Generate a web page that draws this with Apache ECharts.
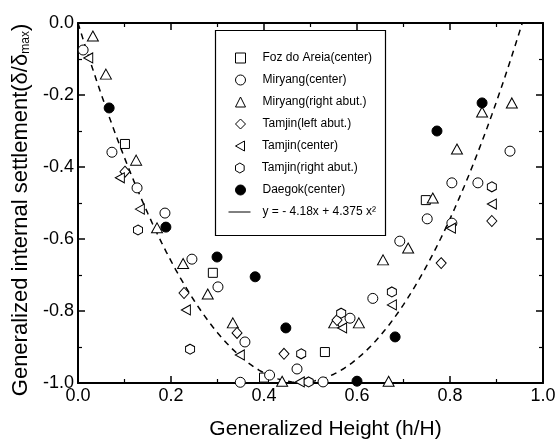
<!DOCTYPE html>
<html>
<head>
<meta charset="utf-8">
<script src="https://cdn.jsdelivr.net/npm/echarts@6/dist/echarts.min.js"></script>
<style>html,body{margin:0;padding:0;background:#fff}#c{width:559px;height:439px}</style>
</head>
<body>
<div id="c"></div>
<script>
// ---- data ----
const seriesNames = ['Foz do Areia(center)','Miryang(center)','Miryang(right abut.)','Tamjin(left abut.)','Tamjin(center)','Tamjin(right abut.)','Daegok(center)'];
const fitName = 'y = - 4.18x + 4.375 x\u00B2';
const fitA = -4.18, fitB = 4.375;
const xTicks = [0, 0.2, 0.4, 0.6, 0.8, 1.0];
const yTicks = [-1.0, -0.8, -0.6, -0.4, -0.2, 0.0];

const fozCenter = [[0.101,-0.336],[0.290,-0.694],[0.400,-0.985],[0.531,-0.914],[0.748,-0.492]];
const miryangCenter = [[0.011,-0.075],[0.073,-0.359],[0.127,-0.458],[0.187,-0.528],[0.245,-0.656],[0.301,-0.733],[0.359,-0.886],[0.349,-0.998],[0.412,-0.978],[0.471,-0.961],[0.527,-0.997],[0.585,-0.820],[0.634,-0.765],[0.692,-0.606],[0.751,-0.544],[0.804,-0.444],[0.860,-0.444],[0.929,-0.356],[0.804,-0.556]];
const miryangRight = [[0.032,-0.036],[0.060,-0.142],[0.125,-0.381],[0.170,-0.569],[0.226,-0.668],[0.279,-0.753],[0.333,-0.833],[0.439,-0.995],[0.551,-0.833],[0.604,-0.833],[0.656,-0.658],[0.668,-0.995],[0.710,-0.625],[0.763,-0.486],[0.815,-0.350],[0.869,-0.247],[0.933,-0.222]];
const tamjinLeft = [[0.101,-0.413],[0.228,-0.750],[0.342,-0.861],[0.443,-0.919],[0.557,-0.825],[0.781,-0.667],[0.890,-0.550]];
const tamjinCenter = [[0.022,-0.097],[0.090,-0.430],[0.133,-0.517],[0.232,-0.797],[0.348,-0.922],[0.477,-0.997],[0.568,-0.847],[0.675,-0.783],[0.802,-0.570],[0.890,-0.503]];
const tamjinRight = [[0.129,-0.575],[0.241,-0.906],[0.480,-0.919],[0.496,-0.997],[0.566,-0.806],[0.675,-0.747],[0.890,-0.455]];
const daegokCenter = [[0.067,-0.236],[0.189,-0.567],[0.299,-0.650],[0.381,-0.705],[0.447,-0.847],[0.600,-0.995],[0.682,-0.872],[0.772,-0.300],[0.869,-0.222]];

// fitted curve from the equation printed in the legend
const fitX = [];
for (let i = 0; i <= 100; i++) fitX.push(i / 100);
const fitData = fitX.map(x => [x, fitA * x + fitB * x * x]);

const FONT = '"Liberation Sans", Arial, sans-serif';
const hexagon = 'path://M5,0 L9.33,2.5 L9.33,7.5 L5,10 L0.67,7.5 L0.67,2.5 Z';
const leftTri = 'path://M0,5 L9,0 L9,10 Z';

function sc(name, data, symbol, size, filled) {
  return {
    name: name, type: 'scatter', data: data, symbol: symbol, symbolSize: size,
    itemStyle: {color: filled ? '#000' : '#fff', borderColor: '#000', borderWidth: 1, opacity: 1},
    emphasis: {disabled: true}, z: 3
  };
}

const axisCommon = {
  type: 'value', splitLine: {show: false},
  axisLine: {show: true, onZero: false, lineStyle: {color: '#000', width: 2}},
  axisTick: {show: true, inside: true, length: 7, lineStyle: {color: '#000', width: 1.5}},
  minorTick: {show: true, splitNumber: 2, length: 4, lineStyle: {color: '#000', width: 1.2}},
};

// one legend block per entry so rows sit at the reference spacing
const legendRows = seriesNames.concat([fitName]);
const legends = legendRows.map((nm, i) => {
  const isLine = nm === fitName;
  return {
    orient: 'vertical', left: isLine ? 228 : 235, top: 52 + 22 * i, padding: 0,
    itemWidth: isLine ? 22 : 10, itemHeight: 10, itemGap: 0,
    selectedMode: false,
    itemStyle: {borderWidth: 1},
    textStyle: {fontSize: 12, fontFamily: FONT, color: '#000', padding: [0, 0, 0, isLine ? 7 : 12]},
    data: isLine ? [{name: nm, lineStyle: {type: 'solid', width: 1}, itemStyle: {opacity: 0}}] : [nm]
  };
});

const chart = echarts.init(document.getElementById('c'), null, {renderer: 'canvas'});
chart.setOption({
  animation: false,
  backgroundColor: '#fff',
  grid: {left: 78, right: 16, top: 23, bottom: 56, containLabel: false, outerBoundsMode: 'none'},
  legend: legends,
  graphic: [{
    type: 'rect', left: 213, top: 28, z: 10, silent: true,
    shape: {width: 170, height: 205},
    style: {fill: 'none', stroke: '#000', lineWidth: 1.2}
  }],
  xAxis: [
    Object.assign({}, axisCommon, {
      position: 'bottom', min: 0, max: 1, interval: 0.2,
      axisLabel: {fontSize: 18, fontFamily: FONT, color: '#000', margin: 4, formatter: v => v.toFixed(1)},
      name: 'Generalized Height (h/H)', nameLocation: 'middle', nameGap: 36,
      nameTextStyle: {fontSize: 21, fontFamily: FONT, color: '#000', padding: [0, 0, 0, 30]}
    }),
    Object.assign({}, axisCommon, {position: 'top', min: 0, max: 1, interval: 0.2, axisLabel: {show: false}})
  ],
  yAxis: [
    Object.assign({}, axisCommon, {
      position: 'left', min: -1, max: 0, interval: 0.2,
      axisLabel: {fontSize: 18, fontFamily: FONT, color: '#000', margin: 4, formatter: v => v.toFixed(1)},
      name: '{a|Generalized internal settlement(\u03B4/\u03B4}{s|max}{a|)}', nameLocation: 'middle', nameGap: 32,
      nameTextStyle: {
        fontSize: 22, fontFamily: FONT, color: '#000', padding: [0, 14, 0, 0],
        rich: {
          a: {fontSize: 22, fontFamily: FONT, color: '#000', lineHeight: 26, verticalAlign: 'bottom'},
          s: {fontSize: 12, fontFamily: FONT, color: '#000', lineHeight: 12, verticalAlign: 'bottom'}
        }
      }
    }),
    Object.assign({}, axisCommon, {position: 'right', min: -1, max: 0, interval: 0.2, axisLabel: {show: false}})
  ],
  series: [
    sc(seriesNames[0], fozCenter, 'rect', 9, false),
    sc(seriesNames[1], miryangCenter, 'circle', 10, false),
    sc(seriesNames[2], miryangRight, 'triangle', [11, 10], false),
    sc(seriesNames[3], tamjinLeft, 'diamond', [10, 11], false),
    sc(seriesNames[4], tamjinCenter, leftTri, [9, 10], false),
    sc(seriesNames[5], tamjinRight, hexagon, [9, 10], false),
    sc(seriesNames[6], daegokCenter, 'circle', 10, true),
    {
      name: fitName, type: 'line', data: fitData, symbol: 'none', smooth: false, clip: true,
      lineStyle: {color: '#000', width: 1.5, type: [6, 5]}, itemStyle: {color: '#000'},
      emphasis: {disabled: true}, z: 2
    }
  ]
});
</script>
</body>
</html>
